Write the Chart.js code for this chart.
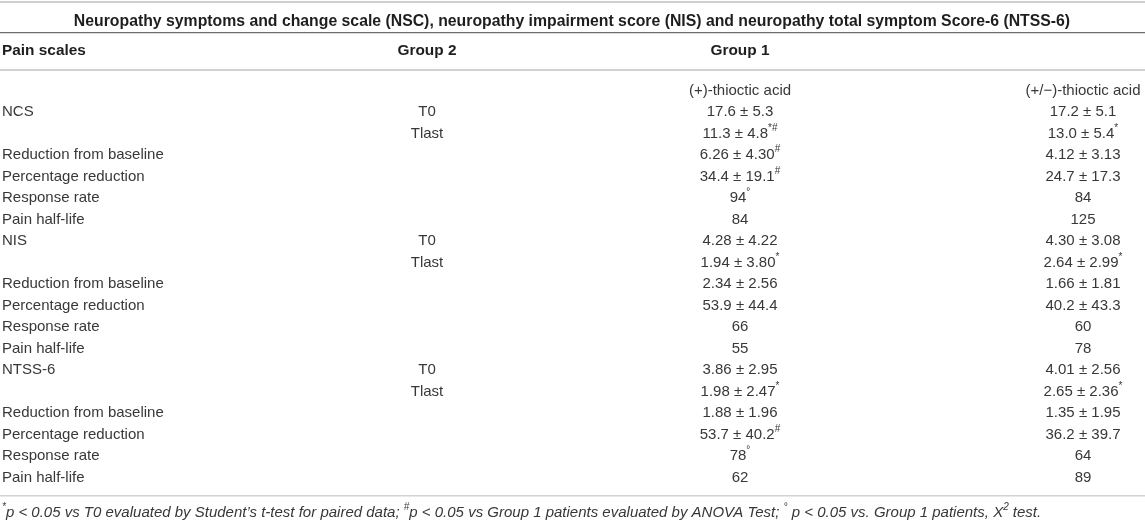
<!DOCTYPE html>
<html>
<head>
<meta charset="utf-8">
<script src="https://cdn.jsdelivr.net/npm/chart.js@4.4.1/dist/chart.umd.min.js"></script>
<style>
    html, body { margin: 0; padding: 0; background: #fff; }
    #wrap { width: 1145px; height: 520px; position: relative; }
</style>
</head>
<body>
<div id="wrap"><canvas id="table"></canvas></div>
<script>
// table content
const tableTitle = 'Neuropathy symptoms and change scale (NSC), neuropathy impairment score (NIS) and neuropathy total symptom Score-6 (NTSS-6)';
const headers = ['Pain scales', 'Group 2', 'Group 1'];
const treatments = ['(+)-thioctic acid', '(+/\u2212)-thioctic acid'];

const painScales = [
    'NCS', '', 'Reduction from baseline', 'Percentage reduction', 'Response rate', 'Pain half-life',
    'NIS', '', 'Reduction from baseline', 'Percentage reduction', 'Response rate', 'Pain half-life',
    'NTSS-6', '', 'Reduction from baseline', 'Percentage reduction', 'Response rate', 'Pain half-life'
];
const timePoints = [
    'T0', 'Tlast', '', '', '', '',
    'T0', 'Tlast', '', '', '', '',
    'T0', 'Tlast', '', '', '', ''
];
// ^{..} marks a superscript
const dextroValues = [
    '17.6 ± 5.3', '11.3 ± 4.8^{*#}', '6.26 ± 4.30^{#}', '34.4 ± 19.1^{#}', '94^{°}', '84',
    '4.28 ± 4.22', '1.94 ± 3.80^{*}', '2.34 ± 2.56', '53.9 ± 44.4', '66', '55',
    '3.86 ± 2.95', '1.98 ± 2.47^{*}', '1.88 ± 1.96', '53.7 ± 40.2^{#}', '78^{°}', '62'
];
const racemicValues = [
    '17.2 ± 5.1', '13.0 ± 5.4^{*}', '4.12 ± 3.13', '24.7 ± 17.3', '84', '125',
    '4.30 ± 3.08', '2.64 ± 2.99^{*}', '1.66 ± 1.81', '40.2 ± 43.3', '60', '78',
    '4.01 ± 2.56', '2.65 ± 2.36^{*}', '1.35 ± 1.95', '36.2 ± 39.7', '64', '89'
];
const footnote = '^{*}p < 0.05 vs T0 evaluated by Student\u2019s t-test for paired data; ^{#}p < 0.05 vs Group 1 patients evaluated by ANOVA Test; ^{°} p < 0.05 vs. Group 1 patients, X^{2} test.';

// layout: y scale runs in row units, first data row at 112px, 21.5px per row
const ROW_H = 21.5, FIRST_ROW = 112;
const toRow = px => (px - FIRST_ROW) / ROW_H;
const colX = [2, 427, 740, 1083];
const titleRow = toRow(22), headerRow = toRow(51), treatRow = toRow(91), footRow = toRow(512.5);
const rules = [
    { y: toRow(1.5), color: '#cfcfcf', width: 2 },
    { y: toRow(33), color: '#6e6e6e', width: 1.2 },
    { y: toRow(70), color: '#d2d2d2', width: 2 },
    { y: toRow(495.5), color: '#d2d2d2', width: 1.6 }
];
const FAMILY = "'Liberation Sans', Arial, sans-serif";
const TEXT = '#383838';
const HEAD = '#1e1e1e';

function column(values, x) {
    return values
        .map((t, i) => ({ x, y: i, text: t }))
        .filter(c => c.text !== '');
}

function textSet(data, align, style, color) {
    return { data, align, style, color, pointRadius: 0, showLine: false };
}

function parseRich(text) {
    const out = [];
    const re = /\^\{([^}]*)\}/g;
    let last = 0, m;
    while ((m = re.exec(text))) {
        if (m.index > last) out.push({ t: text.slice(last, m.index), sup: false });
        out.push({ t: m[1], sup: true });
        last = re.lastIndex;
    }
    if (last < text.length) out.push({ t: text.slice(last), sup: false });
    return out;
}

function drawRich(ctx, text, x, y, align, style, color) {
    const size = style.size;
    const base = `${style.italic ? 'italic ' : ''}${style.bold ? 'bold ' : ''}${size}px ${FAMILY}`;
    const sup = `${style.italic ? 'italic ' : ''}${Math.round(size * 0.68)}px ${FAMILY}`;
    const segs = parseRich(text);
    let total = 0;
    segs.forEach(s => {
        ctx.font = s.sup ? sup : base;
        s.w = ctx.measureText(s.t).width;
        total += s.w;
    });
    let cx = align === 'center' ? x - total / 2 : x;
    ctx.fillStyle = color;
    ctx.textAlign = 'left';
    ctx.textBaseline = 'middle';
    segs.forEach(s => {
        ctx.font = s.sup ? sup : base;
        ctx.fillText(s.t, cx, s.sup ? y - size * 0.38 : y);
        cx += s.w;
    });
}

const cellText = {
    id: 'cellText',
    afterDatasetsDraw(chart) {
        const ctx = chart.ctx;
        ctx.save();
        chart.data.datasets.forEach((ds, di) => {
            const meta = chart.getDatasetMeta(di);
            meta.data.forEach((pt, i) => {
                drawRich(ctx, ds.data[i].text, pt.x, pt.y, ds.align, ds.style, ds.color);
            });
        });
        ctx.restore();
    }
};

const body = { size: 15 };
const bold = { size: 15.4, bold: true };

const datasets = [
    textSet([{ x: 572, y: titleRow, text: tableTitle }], 'center', { size: 15.8, bold: true }, HEAD),
    textSet([{ x: colX[0], y: headerRow, text: headers[0] }], 'left', bold, HEAD),
    textSet([
        { x: colX[1], y: headerRow, text: headers[1] },
        { x: colX[2], y: headerRow, text: headers[2] }
    ], 'center', bold, HEAD),
    textSet([
        { x: colX[2], y: treatRow, text: treatments[0] },
        { x: colX[3], y: treatRow, text: treatments[1] }
    ], 'center', body, TEXT),
    textSet(column(painScales, colX[0]), 'left', body, TEXT),
    textSet(column(timePoints, colX[1]), 'center', body, TEXT),
    textSet(column(dextroValues, colX[2]), 'center', body, TEXT),
    textSet(column(racemicValues, colX[3]), 'center', body, TEXT),
    textSet([{ x: colX[0], y: footRow, text: footnote }], 'left', { size: 15, italic: true }, TEXT)
];

new Chart(document.getElementById('table'), {
    type: 'scatter',
    data: { datasets },
    options: {
        responsive: true,
        maintainAspectRatio: false,
        animation: false,
        events: [],
        layout: { padding: 0 },
        plugins: { legend: { display: false }, tooltip: { enabled: false } },
        scales: {
            x: { type: 'linear', display: false, min: 0, max: 1145 },
            y: {
                type: 'linear',
                reverse: true,
                min: toRow(0),
                max: toRow(520),
                ticks: { display: false },
                border: { display: false },
                afterBuildTicks: s => { s.ticks = rules.map(r => ({ value: r.y })); },
                grid: {
                    drawTicks: false,
                    color: c => (rules.find(r => r.y === c.tick.value) || {}).color || 'transparent',
                    lineWidth: c => (rules.find(r => r.y === c.tick.value) || {}).width || 0
                }
            }
        }
    },
    plugins: [cellText]
});
</script>
</body>
</html>
